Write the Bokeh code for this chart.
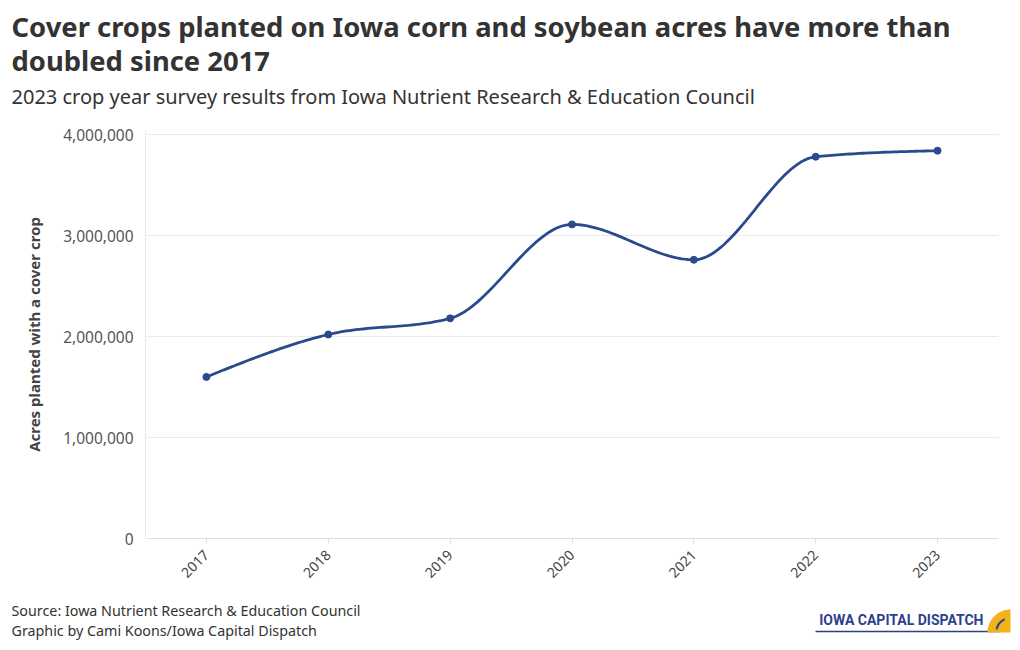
import numpy as np
from bokeh.plotting import figure
from bokeh.models import Label, FixedTicker, NumeralTickFormatter, Range1d
from bokeh.embed import file_html
from bokeh.resources import INLINE

years = [2017, 2018, 2019, 2020, 2021, 2022, 2023]
acres = [1600000, 2020000, 2180000, 3110000, 2760000, 3780000, 3840000]
y_ticks = [0, 1000000, 2000000, 3000000, 4000000]

title_lines = ["Cover crops planted on Iowa corn and soybean acres have more than",
               "doubled since 2017"]
subtitle = "2023 crop year survey results from Iowa Nutrient Research & Education Council"
footer_lines = ["Source: Iowa Nutrient Research & Education Council",
                "Graphic by Cami Koons/Iowa Capital Dispatch"]
y_label = "Acres planted with a cover crop"
logo_text = "IOWA CAPITAL DISPATCH"

LINE = "#2b4a8e"
LOGO = "#2e3f8f"
GOLD = "#f2b21b"
FONT = "Noto Sans"
W, H = 1020, 650

# plot area on the canvas (pixels)
PL, PR, PT, PB = 145, 998, 130, 538
X0, X1 = years[0] - 0.5, years[-1] + 0.5
YTOP = 4040000
pxx = (PR - PL) / (X1 - X0)
pxy = (PB - PT) / YTOP
x_start = X0 - PL / pxx
x_end = X1 + (W - PR) / pxx
y_start = -(H - PB) / pxy
y_end = YTOP + PT / pxy


def dx(px):
    return x_start + px / pxx


def dy(py):
    return y_start + (H - py) / pxy


def monotone_x(xs, ys, n=40):
    xs = np.asarray(xs, float)
    ys = np.asarray(ys, float)
    h = np.diff(xs)
    s = np.diff(ys) / h
    t = np.zeros(len(xs))
    for i in range(1, len(xs) - 1):
        s0, s1 = s[i - 1], s[i]
        p_ = (s0 * h[i] + s1 * h[i - 1]) / (h[i - 1] + h[i])
        t[i] = (np.sign(s0) + np.sign(s1)) * min(abs(s0), abs(s1), 0.5 * abs(p_))
    t[0] = (3 * s[0] - t[1]) / 2
    t[-1] = (3 * s[-1] - t[-2]) / 2
    ox, oy = [], []
    for i in range(len(xs) - 1):
        x0, x1, y0, y1 = xs[i], xs[i + 1], ys[i], ys[i + 1]
        d = (x1 - x0) / 3
        P = np.array([[x0, y0], [x0 + d, y0 + d * t[i]], [x1 - d, y1 - d * t[i + 1]], [x1, y1]])
        u = np.linspace(0, 1, n, endpoint=(i == len(xs) - 2))[:, None]
        B = ((1 - u) ** 3) * P[0] + 3 * ((1 - u) ** 2) * u * P[1] + 3 * (1 - u) * u ** 2 * P[2] + u ** 3 * P[3]
        ox.extend(B[:, 0]); oy.extend(B[:, 1])
    return ox, oy


p = figure(width=W, height=H, output_backend="svg", toolbar_location=None, title=None,
           x_range=Range1d(x_start, x_end), y_range=Range1d(y_start, y_end), min_border=0)
p.outline_line_color = None
p.background_fill_color = "white"
p.border_fill_color = "white"
p.xgrid.visible = False
p.ygrid.visible = False

# horizontal grid lines across the plot area
p.segment(x0=[X0] * len(y_ticks), x1=[X1] * len(y_ticks), y0=y_ticks, y1=y_ticks,
          line_color="#ebebeb", line_width=1)

cx, cy = monotone_x(years, acres)
p.line(cx, cy, line_color=LINE, line_width=2.8)
p.scatter(years, acres, size=7, color=LINE)

# axes
p.xaxis.fixed_location = 0
p.xaxis.bounds = (X0, X1)
p.xaxis.ticker = FixedTicker(ticks=years)
p.xaxis.major_label_orientation = np.pi / 4
p.xaxis.major_label_text_font = FONT
p.xaxis.major_label_text_font_size = "14px"
p.xaxis.major_label_text_color = "#444444"
p.xaxis.axis_line_color = "#e0e0e0"
p.xaxis.major_tick_line_color = "#e0e0e0"
p.xaxis.major_tick_out = 5
p.xaxis.major_tick_in = 0
p.xaxis.minor_tick_line_color = None
p.xaxis.major_label_standoff = 9

p.yaxis.fixed_location = X0
p.yaxis.bounds = (0, YTOP)
p.yaxis.ticker = FixedTicker(ticks=y_ticks)
p.yaxis.formatter = NumeralTickFormatter(format="0,0")
p.yaxis.major_label_text_font = FONT
p.yaxis.major_label_text_font_size = "15.5px"
p.yaxis.major_label_text_color = "#555555"
p.yaxis.axis_line_color = "#ebebeb"
p.yaxis.major_tick_line_color = None
p.yaxis.minor_tick_line_color = None
p.yaxis.major_label_standoff = 6
p.yaxis.axis_label = y_label
p.yaxis.axis_label_text_font = FONT
p.yaxis.axis_label_text_font_style = "bold"
p.yaxis.axis_label_text_font_size = "15px"
p.yaxis.axis_label_text_color = "#444444"
p.yaxis.axis_label_standoff = 16


def lab(x, y, text, size, color="#333333", style="normal", align="left", font=FONT):
    # y is the wanted baseline (pixels from the top); shift for how the label is anchored
    px = float(size.replace("px", ""))
    p.add_layout(Label(x=x, y=H - (y - 0.42 * px), x_units="screen", y_units="screen", text=text,
                       text_font=font, text_font_size=size, text_color=color,
                       text_font_style=style, text_align=align, text_baseline="alphabetic"))


lab(11, 38, title_lines[0], "27.4px", "#333333", "bold")
lab(11, 72, title_lines[1], "27.4px", "#333333", "bold")
lab(11, 104, subtitle, "20px", "#333333")
lab(11, 616, footer_lines[0], "14.3px", "#333333")
lab(11, 636, footer_lines[1], "14.3px", "#333333")

# logo
lab(983, 625, logo_text, "14px", LOGO, "bold", "right", "Roboto")
p.segment(x0=[dx(815)], x1=[dx(1000)], y0=[dy(631)], y1=[dy(631)], line_color=LOGO, line_width=1.5)
ang = np.linspace(np.pi, np.pi / 2, 24)
r = 23
qx = [dx(v) for v in list(1010 + r * np.cos(ang)) + [1010]]
qy = [dy(v) for v in list(632 - r * np.sin(ang)) + [632]]
p.patch(qx, qy, fill_color=GOLD, line_color=None)
ang2 = np.linspace(np.pi * 0.95, np.pi * 0.62, 12)
ax_ = list(1009 + 14 * np.cos(ang2)) + list(1009 + 12 * np.cos(ang2[::-1]))
ay_ = list(631 - 14 * np.sin(ang2)) + list(631 - 12 * np.sin(ang2[::-1]))
p.patch([dx(v) for v in ax_], [dy(v) for v in ay_], fill_color=LOGO, line_color=None)

open("out.html", "w").write(file_html(p, INLINE))
